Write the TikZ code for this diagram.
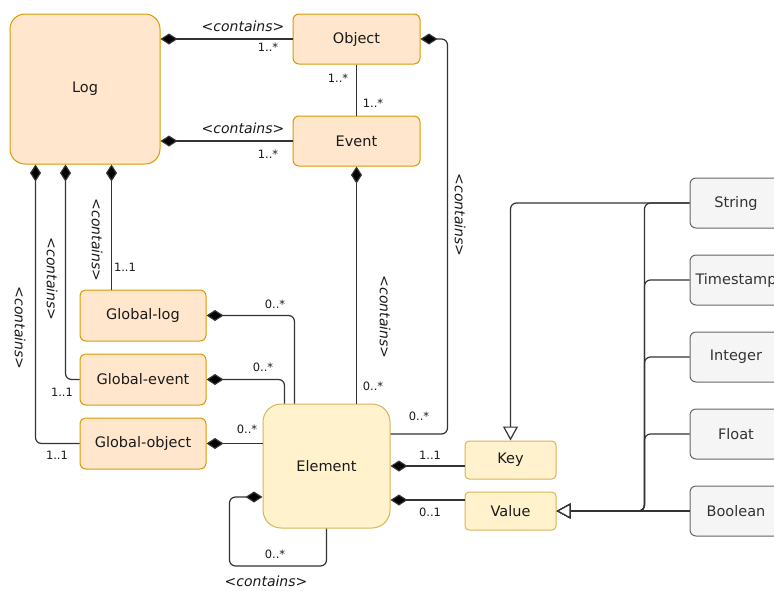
\documentclass[tikz,border=0pt]{standalone}
\usepackage{fontspec}
\setmainfont{DejaVu Sans}
\usetikzlibrary{arrows.meta,positioning}

\definecolor{peachfill}{HTML}{FFE6CC}
\definecolor{peachline}{HTML}{D79B00}
\definecolor{yellowfill}{HTML}{FFF2CC}
\definecolor{yellowline}{HTML}{D6B656}
\definecolor{grayfill}{HTML}{F5F5F5}
\definecolor{grayline}{HTML}{666666}
\definecolor{linkline}{HTML}{333333}
\definecolor{labeltext}{HTML}{1A1A1A}

\begin{document}
\begin{tikzpicture}[x=1pt, y=-1pt, font=\fontsize{14.5}{17}\selectfont, text=labeltext]
    \tikzstyle{peach} = [rectangle, draw=peachline, fill=peachfill, line width=1pt, rounded corners=6pt, minimum width=126pt, minimum height=50pt, inner sep=0pt]
    \tikzstyle{yellow} = [rectangle, draw=yellowline, fill=yellowfill, line width=1pt, rounded corners=4pt, minimum width=91pt, minimum height=38pt, inner sep=0pt]
    \tikzstyle{datatype} = [rectangle, draw=grayline, fill=grayfill, line width=1pt, rounded corners=6pt, minimum width=92pt, minimum height=50pt, inner sep=0pt, text=black!80]
    \tikzstyle{link} = [draw=linkline, line width=1.2pt, rounded corners=6pt]
    \tikzstyle{comp} = [link, {Diamond[length=17pt, width=11pt, fill=black]}-]
    \tikzstyle{gen} = [link, -{Triangle[open, length=14pt, width=15pt, fill=white]}]
    \tikzstyle{mult} = [font=\fontsize{11.5}{13}\selectfont, inner sep=0pt]
    \tikzstyle{role} = [font=\fontsize{14}{16}\itshape, inner sep=0pt]

    \useasboundingbox (0,0) rectangle (774,590);
    \clip (0,0) rectangle (774,590);

    \node[peach, rounded corners=15pt, minimum width=150pt, minimum height=150pt] (log) at (85,89) {Log};
    \node[peach, minimum width=127pt] (obj) at (356.5,39) {Object};
    \node[peach, minimum width=127pt, below=51pt of obj] (evt) {Event};

    \node[peach, minimum height=51pt] (glog) at (143,315.5) {Global-log};
    \node[peach, minimum height=51pt, below=12pt of glog] (gevt) {Global-event};
    \node[peach, minimum height=51pt, below=12pt of gevt] (gobj) {Global-object};

    \node[yellow, rounded corners=18pt, minimum width=127pt, minimum height=124pt] (elem) at (326.5,466) {Element};
    \node[yellow] (key) at (510.5,460) {Key};
    \node[yellow] (val) at (510.5,511) {Value};

    \node[datatype] (str) at (736,203) {String};
    \node[datatype] (ts) at (736,280) {Timestamp};
    \node[datatype] (int) at (736,357) {Integer};
    \node[datatype] (flt) at (736,434) {Float};
    \node[datatype] (bool) at (736,511) {Boolean};

    \coordinate (glt) at ([xshift=-31.5pt]glog.north);
    \coordinate (et1) at ([xshift=-32pt]elem.north);
    \coordinate (et2) at ([xshift=-42pt]elem.north);

    \draw[comp] (log.east |- obj) -- (obj.west);
    \draw[comp] (log.east |- evt) -- (evt.west);
    \draw[link] (obj) -- (evt);
    \draw[comp] (log.south -| glt) -- (glt);
    \draw[comp] ([xshift=-46pt]log.south -| glt) |- (gevt.west);
    \draw[comp] ([xshift=-76pt]log.south -| glt) |- (gobj.west);
    \draw[comp] (glog.east) -| (et1);
    \draw[comp] (gevt.east) -| (et2);
    \draw[comp] (gobj.east) -- (gobj.east -| elem.west);
    \draw[comp] (evt.south) -- (evt.south |- elem.north);
    \draw[comp] (obj.east) -- ++(27,0) |- ([yshift=32pt]elem.east);
    \draw[comp] (elem.east) -- (elem.east -| key.west);
    \draw[comp] ([yshift=-34pt]elem.east) -- ([yshift=-34pt]elem.east -| val.west);
    \draw[comp] ([yshift=-31pt]elem.west) -- ++(-33,0) -- ++(0,69) -| (elem.south);

    \draw[gen] (str.west) -| (key.north);
    \draw[gen] (str.west) -- ++(-45,0) |- (val.east);
    \draw[gen] (ts.west) -- ++(-45,0) |- (val.east);
    \draw[gen] (int.west) -- ++(-45,0) |- (val.east);
    \draw[gen] (flt.west) -- ++(-45,0) |- (val.east);
    \draw[gen] (bool.west) -- (val.east);

    \node[role] (r1) at (243,26) {<contains>};
    \node[role] (r2) at (243,128) {<contains>};
    \node[role, rotate=-90] (r3) at (460,215) {<contains>};
    \node[role, rotate=-90] (r4) at (385,317) {<contains>};
    \node[role, rotate=-90] (r5) at (97,240) {<contains>};
    \node[role, rotate=-90] (r6) at (52,279) {<contains>};
    \node[role, rotate=-90] (r7) at (20,328) {<contains>};
    \node[role] (r8) at (266,581) {<contains>};

    \node[mult] (m1) at (268,47) {1..*};
    \node[mult] (m2) at (268,154) {1..*};
    \node[mult] (m3) at (338,78) {1..*};
    \node[mult] (m4) at (373,103) {1..*};
    \node[mult] (m5) at (125,267) {1..1};
    \node[mult] (m6) at (62,392) {1..1};
    \node[mult] (m7) at (57,455) {1..1};
    \node[mult] (m8) at (275,304) {0..*};
    \node[mult] (m9) at (263,367) {0..*};
    \node[mult] (m10) at (247,429) {0..*};
    \node[mult] (m11) at (373,386) {0..*};
    \node[mult] (m12) at (419,416) {0..*};
    \node[mult] (m13) at (430,455) {1..1};
    \node[mult] (m14) at (430,512) {0..1};
    \node[mult] (m15) at (275,554) {0..*};
\end{tikzpicture}
\end{document}
